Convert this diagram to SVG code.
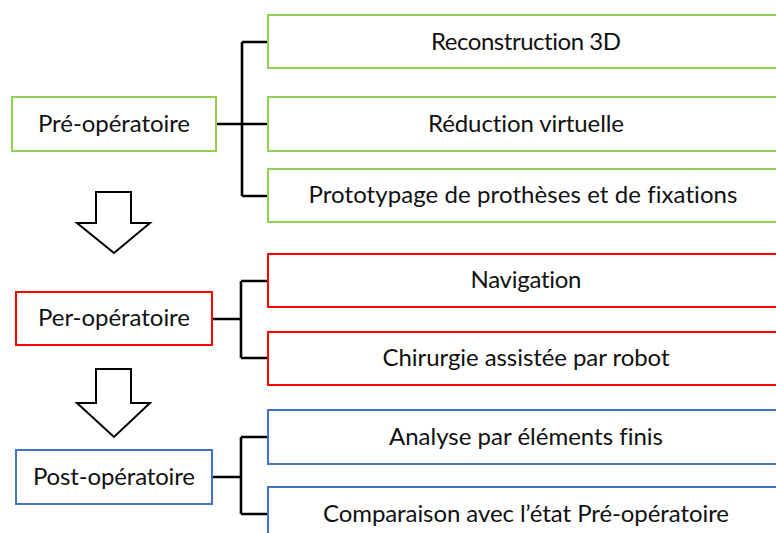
<svg xmlns="http://www.w3.org/2000/svg" width="776" height="533" viewBox="0 0 776 533">
<style>
rect{fill:#fff;stroke-width:2}
.g{stroke:#92D050}.r{stroke:#FF0000}.b{stroke:#4472C4}
text{font-family:Lato,"Liberation Sans",sans-serif;font-size:24px;fill:#111;text-anchor:middle;font-variant-ligatures:none}
.c{fill:none;stroke:#000;stroke-width:2.6}
.arr{fill:#fff;stroke:#000;stroke-width:2}
</style>
<rect width="776" height="533" fill="#fff" stroke="none"/>
<g id="connectors">
<path class="c" d="M216 124H242M242 42V196M242 42H268M242 124H268M242 196H268"/>
<path class="c" d="M212 319H241M241 281V358M241 281H268M241 358H268"/>
<path class="c" d="M212 477H241M241 437V514M241 437H268M241 514H268"/>
<polygon class="arr" points="96,192 131,192 131,223 150,223 114,253 77,223 96,223"/>
<polygon class="arr" points="96,369 131,369 131,403 150,403 114,437 77,403 96,403"/>
</g>
<g id="pre"><rect class="g" x="12" y="97" width="204" height="54"/><text x="114" y="132" textLength="152">Pré-opératoire</text></g>
<g id="per"><rect class="r" x="16" y="292" width="196" height="53"/><text x="114" y="326" textLength="152">Per-opératoire</text></g>
<g id="post"><rect class="b" x="16" y="450" width="196" height="54"/><text x="114" y="485" textLength="162">Post-opératoire</text></g>
<g id="reconstruction"><rect class="g" x="268" y="15" width="516" height="53"/><text x="526" y="50" textLength="190">Reconstruction 3D</text></g>
<g id="reduction"><rect class="g" x="268" y="97" width="516" height="54"/><text x="526" y="132" textLength="196">Réduction virtuelle</text></g>
<g id="prototypage"><rect class="g" x="268" y="169" width="516" height="53"/><text x="523" y="203" textLength="429">Prototypage de prothèses et de fixations</text></g>
<g id="navigation"><rect class="r" x="268" y="254" width="516" height="53"/><text x="526" y="288" textLength="111">Navigation</text></g>
<g id="chirurgie"><rect class="r" x="268" y="332" width="516" height="53"/><text x="526" y="366" textLength="287">Chirurgie assistée par robot</text></g>
<g id="analyse"><rect class="b" x="268" y="410" width="516" height="54"/><text x="526" y="445" textLength="274">Analyse par éléments finis</text></g>
<g id="comparaison"><rect class="b" x="268" y="487" width="516" height="54"/><text x="526" y="522" textLength="406">Comparaison avec l’état Pré-opératoire</text></g>
</svg>
